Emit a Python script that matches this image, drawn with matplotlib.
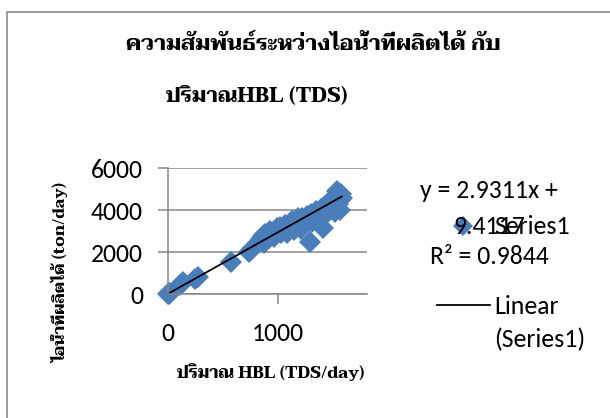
import matplotlib
matplotlib.use('Agg')
import matplotlib.pyplot as plt
from matplotlib import font_manager
from matplotlib.patches import Rectangle
from matplotlib.lines import Line2D
import numpy as np

# HBL amount (TDS/day) vs steam produced (ton/day)
hbl = [0, 5, 12, 20, 110, 140, 250, 275, 570, 740, 760, 820, 850, 870, 900,
       920, 940, 960, 980, 1000, 1010, 1030, 1050, 1070, 1090, 1100, 1120,
       1140, 1150, 1170, 1190, 1200, 1220, 1240, 1260, 1280, 1290, 1300, 1320,
       1340, 1350, 1370, 1390, 1400, 1410, 1420, 1440, 1450, 1460, 1480, 1490,
       1500, 1510, 1520, 1520, 1530, 1540, 1550, 1560, 1560, 1570,
       880, 930, 990, 1060, 1130, 1180, 1250, 1310, 1360, 1430, 1470, 1510,
       1550, 960, 1080, 1210, 1330, 1460, 1580, 860, 910, 1020, 1110]
steam = [0, 20, 60, 40, 450, 560, 720, 830, 1540, 2020, 2150, 2450, 2600,
         2450, 2750, 2650, 2900, 2800, 3000, 2950, 3100, 2900, 3150, 3050,
         3250, 3100, 3350, 3250, 3050, 3450, 3400, 3300, 3600, 3500, 3700,
         3650, 2480, 3800, 3750, 3600, 3950, 3900, 4050, 3700, 3150, 4150,
         4000, 4250, 4200, 4350, 4100, 4450, 4300, 4550, 3900, 4400, 4900,
         4650, 4500, 4000, 4750,
         2850, 3000, 3150, 3300, 3500, 3600, 3350, 3450, 3700, 3800, 4450,
         4150, 4300, 2700, 2900, 3100, 3550, 3950, 4550, 2750, 2900, 3200, 3400]

# linear trendline reported on the chart
slope = 2.9311
intercept = 9.4117
r2 = 0.9844

x_ticks = [0, 1000]
y_ticks = [0, 2000, 4000, 6000]

title_1 = 'ความสัมพันธ์ระหว่างไอน้ำที่ผลิตได้ กับ'
title_2 = 'ปริมาณHBL (TDS)'
x_label = 'ปริมาณ HBL (TDS/day)'
y_label = 'ไอน้ำที่ผลิตได้ (ton/day)'

# looped Thai serif face (its Latin is Times-like too)
installed = {f.name for f in font_manager.fontManager.ttflist}
thai_face = next((n for n in ['Taviraj', 'Trirong', 'Noto Serif Thai', 'Sarabun']
                  if n in installed), 'DejaVu Sans')
thai_bold = [thai_face, 'DejaVu Sans']
body = ['Carlito', 'Liberation Sans', 'DejaVu Sans']
blue = '#4a7ebb'
grey = '#868686'
fs = 18.5

W, H = 610, 418
fig = plt.figure(figsize=(W / 100, H / 100), dpi=100)

def fx(px):
    return px / W

def fy(py):
    return 1 - py / H

# chart border (left and top edges visible)
fig.add_artist(Rectangle((fx(7), -0.1), 1.2, fy(12) + 0.1, transform=fig.transFigure,
                         fill=False, edgecolor='#8c8c8c', linewidth=1.2))

ax = fig.add_axes([fx(168), fy(294), fx(367) - fx(168), fy(168) - fy(294)])
ax.set_xlim(0, 1810)
ax.set_ylim(0, 6000)
ax.set_xticks(x_ticks)
ax.set_yticks(y_ticks)
ax.grid(axis='y', color=grey, linewidth=1.1)
ax.set_axisbelow(True)
for s in ['top', 'right']:
    ax.spines[s].set_visible(False)
for s in ['left', 'bottom']:
    ax.spines[s].set_color(grey)
    ax.spines[s].set_linewidth(1.1)
ax.tick_params(direction='out', length=7, width=1.1, color=grey)
ax.tick_params(axis='y', pad=11)
ax.tick_params(axis='x', pad=13)
for lab in ax.get_xticklabels() + ax.get_yticklabels():
    lab.set_family(body)
    lab.set_fontsize(fs)

ax.plot(hbl, steam, linestyle='none', marker='D', markersize=11,
        color=blue, markeredgewidth=0, clip_on=False)
fit_x = np.array([0, max(hbl)])
ax.plot(fit_x, slope * fit_x + intercept, color='black', linewidth=1.3, clip_on=False)

# titles and axis labels
fig.text(fx(313), fy(45), title_1, ha='center', va='center', family=thai_bold,
         fontweight='bold', fontsize=15.6)
fig.text(fx(257), fy(95), title_2, ha='center', va='center', family=thai_bold,
         fontweight='bold', fontsize=15)
fig.text(fx(271), fy(372), x_label, ha='center', va='center', family=thai_bold,
         fontweight='bold', fontsize=12)
fig.text(fx(61), fy(273), y_label, ha='center', va='center', rotation=90,
         family=thai_bold, fontweight='bold', fontsize=11.5)

# trendline equation
fig.text(fx(489), fy(191), 'y = %.4fx +' % slope, ha='center', va='center',
         family=body, fontsize=fs)
fig.text(fx(489), fy(226), '%.4f' % intercept, ha='center', va='center',
         family=body, fontsize=fs)
fig.text(fx(489), fy(256), 'R² = %.4f' % r2, ha='center', va='center',
         family=body, fontsize=fs)

# legend entries
fig.add_artist(Line2D([fx(463)], [fy(226)], marker='D', markersize=10, color=blue,
                      markeredgewidth=0, transform=fig.transFigure))
fig.text(fx(494), fy(227), 'Series1', ha='left', va='center', family=body, fontsize=fs)
fig.add_artist(Line2D([fx(437), fx(490)], [fy(305), fy(305)], color='black',
                      linewidth=1.3, transform=fig.transFigure))
fig.text(fx(494), fy(306), 'Linear', ha='left', va='center', family=body, fontsize=fs)
fig.text(fx(494), fy(340), '(Series1)', ha='left', va='center', family=body, fontsize=fs)

fig.savefig('out.png', dpi=100)
